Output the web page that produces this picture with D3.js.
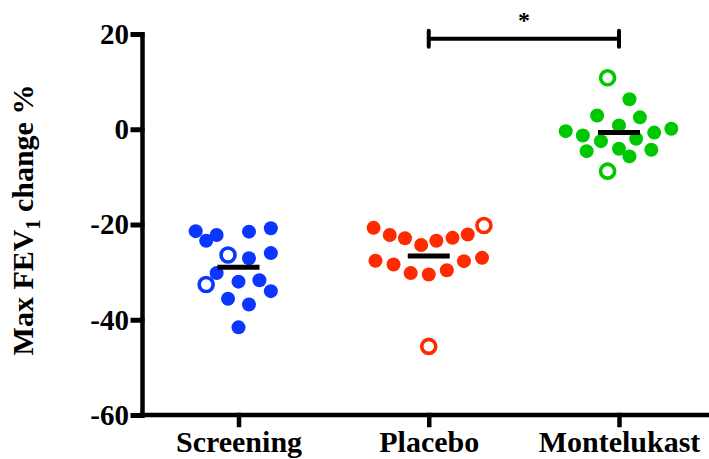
<!DOCTYPE html>
<meta charset="utf-8">
<head>
    <title>Max FEV1 change</title>
</head>

<style>
    body { margin: 0; background: #fff; }
    .axis path, .axis line {
        stroke: #000;
        stroke-linecap: square;
    }
    .axis text {
        font-family: "Liberation Serif", "Times New Roman", serif;
        font-weight: bold;
        fill: #000;
    }
</style>

<script src="https://d3js.org/d3.v7.min.js"></script>

<div id="chart"></div>

<script>

    // data
    var categories = ["Screening", "Placebo", "Montelukast"];
    var yTicks = [20, 0, -20, -40, -60];

    var screeningValues = [-21.4, -23.4, -22.2, -21.5, -20.8, -26.0, -27.1, -30.2, -32.0, -31.7, -34.0, -35.6, -36.8, -41.6, -26.4, -32.6];
    var screeningJitter = [-0.45, -0.34, -0.23, 0.11, 0.34, 0.34, 0.11, -0.23, 0, 0.22, 0.34, -0.11, 0.11, 0, -0.11, -0.34];
    var screeningOpen   = [0, 0, 0, 0, 0, 0, 0, 0, 0, 0, 0, 0, 0, 0, 1, 1];

    var placeboValues = [-20.7, -22.2, -22.9, -24.3, -23.4, -22.8, -22.1, -27.6, -28.4, -30.2, -30.5, -29.6, -27.7, -27.0, -20.2, -45.6];
    var placeboJitter = [-0.58, -0.41, -0.25, -0.08, 0.08, 0.25, 0.41, -0.56, -0.37, -0.19, 0, 0.19, 0.37, 0.56, 0.58, 0];
    var placeboOpen   = [0, 0, 0, 0, 0, 0, 0, 0, 0, 0, 0, 0, 0, 0, 1, 1];

    var montelukastValues = [6.3, 2.9, 2.5, 0.8, -0.4, -1.3, 0.1, -0.7, -2.0, -2.5, -4.6, -4.1, -5.7, -4.3, 10.8, -8.8];
    var montelukastJitter = [0.11, -0.23, 0.22, 0, -0.56, -0.38, 0.55, 0.37, 0.18, -0.19, -0.34, 0, 0.11, 0.34, -0.12, -0.12];
    var montelukastOpen   = [0, 0, 0, 0, 0, 0, 0, 0, 0, 0, 0, 0, 0, 0, 1, 1];

    var groupMeans = [-29.0, -26.6, -0.7];

    // significance bracket: Placebo vs Montelukast
    var bracketFrom = "Placebo", bracketTo = "Montelukast", bracketValue = 19, bracketLabel = "*";

    var colors = ["#0a36ff", "#ff2a00", "#00c800"];

    var groups = [
        { name: categories[0], values: screeningValues, jitter: screeningJitter, open: screeningOpen },
        { name: categories[1], values: placeboValues, jitter: placeboJitter, open: placeboOpen },
        { name: categories[2], values: montelukastValues, jitter: montelukastJitter, open: montelukastOpen }
    ];

    var margin = { top: 34, right: 0, bottom: 44, left: 142 },
        width = 709 - margin.left - margin.right,
        height = 459 - margin.top - margin.bottom;

    var svg = d3.select("#chart")
        .append("svg")
        .attr("width", 709)
        .attr("height", 459)
        .append("g")
        .attr("transform", "translate(" + margin.left + "," + margin.top + ")");

    var x = d3.scalePoint().domain(categories).range([96.5, 477]);
    var jx = d3.scaleLinear().domain([-1, 1]).range([-x.step() / 2, x.step() / 2]);
    var y = d3.scaleLinear().domain([-60, 20]).range([height, 0]);
    var color = d3.scaleOrdinal().domain(categories).range(colors);

    // y axis (plain hyphen for negatives, like the original)
    var yAxis = svg.append("g")
        .attr("class", "axis")
        .call(d3.axisLeft(y).tickValues(yTicks).tickFormat(function (d) { return String(d); })
            .tickSizeInner(9).tickSizeOuter(0).tickPadding(4));
    yAxis.select(".domain").attr("stroke-width", 4.5);
    yAxis.selectAll(".tick line").attr("stroke-width", 5);
    yAxis.selectAll("text").attr("font-size", "29px");

    // x axis
    var xAxis = svg.append("g")
        .attr("class", "axis")
        .attr("transform", "translate(0," + height + ")")
        .call(d3.axisBottom(x).tickSizeInner(10).tickSizeOuter(0).tickPadding(6));
    xAxis.select(".domain").attr("d", "M0,0H" + width).attr("stroke-width", 4.5);
    xAxis.selectAll(".tick line").attr("stroke-width", 4.5);
    xAxis.selectAll("text").attr("font-size", "30px");

    // y axis title
    var ylab = svg.append("text")
        .attr("transform", "rotate(-90)")
        .attr("x", -(220 - margin.top))
        .attr("y", 33 - margin.left)
        .attr("text-anchor", "middle")
        .attr("font-family", "Liberation Serif, Times New Roman, serif")
        .attr("font-weight", "bold")
        .attr("font-size", "30px");
    ylab.append("tspan").text("Max FEV");
    ylab.append("tspan").attr("font-size", "20px").attr("dy", "7").text("1");
    ylab.append("tspan").attr("dy", "-7").text(" change %");

    // points
    groups.forEach(function (g) {
        var pts = g.values.map(function (v, i) { return { v: v, j: g.jitter[i], open: g.open[i] }; });
        svg.append("g")
            .selectAll("circle")
            .data(pts)
            .enter()
            .append("circle")
            .attr("cx", function (d) { return x(g.name) + jx(d.j); })
            .attr("cy", function (d) { return y(d.v); })
            .attr("r", 7)
            .attr("fill", function (d) { return d.open ? "#fff" : color(g.name); })
            .attr("stroke", function (d) { return d.open ? color(g.name) : "none"; })
            .attr("stroke-width", 3.6);
    });

    // mean lines
    svg.append("g")
        .selectAll("line")
        .data(groupMeans)
        .enter()
        .append("line")
        .attr("x1", function (d, i) { return x(categories[i]) - 21; })
        .attr("x2", function (d, i) { return x(categories[i]) + 21; })
        .attr("y1", function (d) { return y(d); })
        .attr("y2", function (d) { return y(d); })
        .attr("stroke", "#000")
        .attr("stroke-width", 5);

    // significance bracket
    var bx1 = x(bracketFrom), bx2 = x(bracketTo), by = y(bracketValue);
    var br = svg.append("g").attr("stroke", "#000").attr("stroke-linecap", "round");
    br.append("line").attr("x1", bx1).attr("x2", bx2).attr("y1", by).attr("y2", by).attr("stroke-width", 4);
    br.append("line").attr("x1", bx1).attr("x2", bx1).attr("y1", by - 8).attr("y2", by + 8).attr("stroke-width", 4);
    br.append("line").attr("x1", bx2).attr("x2", bx2).attr("y1", by - 8).attr("y2", by + 8).attr("stroke-width", 4);
    svg.append("text")
        .attr("x", (bx1 + bx2) / 2)
        .attr("y", by - 11)
        .attr("text-anchor", "middle")
        .attr("font-family", "Liberation Serif, Times New Roman, serif")
        .attr("font-weight", "bold")
        .attr("font-size", "24px")
        .text(bracketLabel);

</script>
